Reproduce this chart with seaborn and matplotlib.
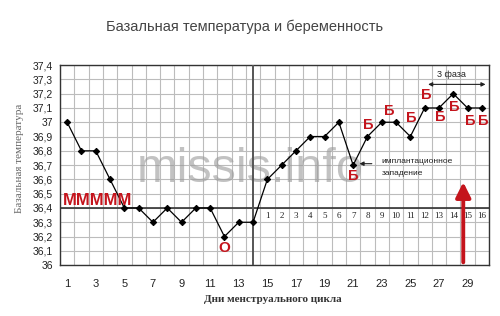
import matplotlib
matplotlib.use("Agg")
import matplotlib.pyplot as plt
import seaborn as sns
import numpy as np
import pandas as pd

# ---- data ----
days = list(range(1, 31))
temps = [37.0, 36.8, 36.8, 36.6, 36.4, 36.4, 36.3, 36.4, 36.3, 36.4,
         36.4, 36.2, 36.3, 36.3, 36.6, 36.7, 36.8, 36.9, 36.9, 37.0,
         36.7, 36.9, 37.0, 37.0, 36.9, 37.1, 37.1, 37.2, 37.1, 37.1]
cover_line = 36.4
ovulation_day = 14
post_days = list(range(15, 31))
post_labels = [str(i) for i in range(1, 17)]
y_ticks = [36.0, 36.1, 36.2, 36.3, 36.4, 36.5, 36.6, 36.7, 36.8, 36.9,
           37.0, 37.1, 37.2, 37.3, 37.4]
x_tick_labels = list(range(1, 30, 2))

title = "Базальная температура и беременность"
xlabel = "Дни менструального цикла"
ylabel = "Базальная температура"

df = pd.DataFrame({"day": days, "temp": temps})

sns.set_theme(style="white")
plt.rcParams['font.family'] = ['Liberation Sans', 'DejaVu Sans']

fig = plt.figure(figsize=(5.0, 3.16), dpi=100)
ax = fig.add_axes([0.12, 0.161, 0.858, 0.633])

red = "#c4141c"

sns.lineplot(data=df, x="day", y="temp", ax=ax, color="black", lw=0.9,
             marker="D", markersize=3.2, markeredgecolor="black",
             markerfacecolor="black", zorder=4)

ax.set_xlim(0.5, 30.5)
ax.set_ylim(36.0, 37.4)


def fmt(v):
    if abs(v - round(v)) < 1e-6:
        return str(int(round(v)))
    return ("%.1f" % v).replace(".", ",")


ax.set_xticks(x_tick_labels)
ax.set_xticklabels([str(v) for v in x_tick_labels], fontsize=8, color="#222")
ax.set_xticks(np.arange(0.5, 31, 1), minor=True)
ax.set_yticks(y_ticks)
ax.set_yticklabels([fmt(v) for v in y_ticks], fontsize=7.5, color="#222")
ax.grid(False)
ax.xaxis.grid(True, which="minor", color="#bcbcbc", lw=0.8)
ax.yaxis.grid(True, which="major", color="#bcbcbc", lw=0.8)
ax.tick_params(axis="x", which="major", length=0, pad=10)
ax.tick_params(axis="x", which="minor", length=4, width=0.8, color="#333", direction="out")
ax.tick_params(axis="y", which="major", length=3, width=0.6, color="#777", pad=2)
for s in ax.spines.values():
    s.set_color("#333")
    s.set_linewidth(1.0)

# cover line and ovulation line
ax.axhline(cover_line, color="#333", lw=1.2, zorder=3)
ax.axvline(ovulation_day, color="#555", lw=1.4, zorder=3)

# post-ovulation day numbers
for d, lab in zip(post_days, post_labels):
    ax.text(d, 36.345, lab, ha="center", va="center", fontsize=6.5, color="#222",
            fontfamily="Liberation Serif", zorder=5)

# watermark
ax.text(13.8, 36.67, "missis.info", ha="center", va="center", fontsize=35,
        color="#9a9a9a", alpha=0.6, zorder=2)

# red markers
ax.text(3.1, 36.455, "МММММ", ha="center", va="center", fontsize=12,
        color=red, fontweight="bold", zorder=5)
ax.text(12.0, 36.12, "О", ha="center", va="center", fontsize=11,
        color=red, fontweight="bold", zorder=5)
b_pos = [(21.0, 36.625), (22.05, 36.98), (23.5, 37.08), (25.05, 37.03),
         (26.1, 37.19), (27.1, 37.04), (28.05, 37.11), (29.2, 37.01), (30.1, 37.01)]
for bx, by in b_pos:
    ax.text(bx, by, "Б", ha="center", va="center", fontsize=10.5,
            color=red, fontweight="bold", zorder=5)

# implantation annotation
ax.annotate("", xy=(21.25, 36.71), xytext=(22.5, 36.71),
            arrowprops=dict(arrowstyle="-|>", color="#222", lw=0.8,
                            mutation_scale=6), zorder=5)
ax.text(23.0, 36.725, "имплантационное", ha="left", va="center", fontsize=6,
        color="#222", zorder=5)
ax.text(23.0, 36.64, "западение", ha="left", va="center", fontsize=6,
        color="#222", zorder=5)

# 3 phase arrow
ax.annotate("", xy=(26.05, 37.265), xytext=(30.45, 37.265),
            arrowprops=dict(arrowstyle="<|-|>", color="#222", lw=0.8,
                            mutation_scale=6), zorder=5)
ax.text(27.9, 37.335, "3 фаза", ha="center", va="center", fontsize=6.5,
        color="#222", zorder=5)

# red vertical arrow
ax.annotate("", xy=(28.7, 36.6), xytext=(28.7, 36.0),
            arrowprops=dict(arrowstyle="-|>,head_width=0.45,head_length=0.9",
                            color=red, lw=2.8, mutation_scale=10),
            zorder=6, annotation_clip=False)

ax.set_xlabel("")
ax.set_ylabel("")
fig.text(0.546, 0.052, xlabel, ha="center", va="center", fontsize=8,
         fontweight="bold", color="#333", fontfamily="Liberation Serif")
fig.text(0.04, 0.50, ylabel, ha="center", va="center", rotation=90,
         fontsize=8, color="#666", fontfamily="Liberation Serif")
fig.text(0.49, 0.915, title, ha="center", va="center", fontsize=10.5,
         color="#444")

fig.savefig("out.png", dpi=100, facecolor="white")
